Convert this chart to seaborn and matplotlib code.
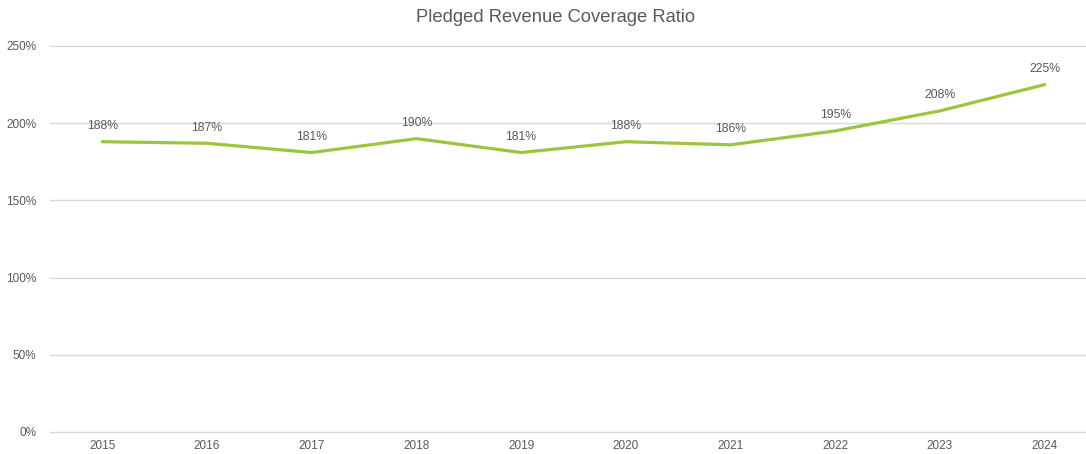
import matplotlib
matplotlib.use("Agg")
import matplotlib.pyplot as plt
import seaborn as sns
import pandas as pd
from matplotlib.ticker import FuncFormatter

years = ["2015", "2016", "2017", "2018", "2019", "2020", "2021", "2022", "2023", "2024"]
coverage = [188, 187, 181, 190, 181, 188, 186, 195, 208, 225]
y_ticks = [0, 50, 100, 150, 200, 250]

sns.set_theme(style="white")
plt.rcParams["font.family"] = ["Liberation Sans", "DejaVu Sans"]

df = pd.DataFrame({"year": years, "coverage": coverage})
df["pos"] = range(len(years))

fig = plt.figure(figsize=(10.86, 4.54), dpi=100)
ax = fig.add_axes([50 / 1086, 22 / 454, 1047 / 1086, 386 / 454])

line_color = "#9BC53D"
text_color = "#595959"

sns.lineplot(data=df, x="pos", y="coverage", ax=ax, color=line_color, linewidth=2.3)

for p, v in zip(df["pos"], df["coverage"]):
    ax.annotate(f"{v}%", (p, v), xytext=(0, 7), textcoords="offset points",
                ha="center", va="bottom", fontsize=8.8, color=text_color)

ax.set_xlim(-0.5, len(years) - 0.5)
ax.set_ylim(0, 250)
ax.set_xticks(df["pos"])
ax.set_xticklabels(years)
ax.set_yticks(y_ticks)
ax.yaxis.set_major_formatter(FuncFormatter(lambda v, _: f"{v:.0f}%"))
ax.tick_params(axis="both", length=0, labelsize=8.5, labelcolor=text_color)
ax.tick_params(axis="x", pad=6)
ax.tick_params(axis="y", pad=10)
ax.grid(axis="y", color="#D9D9D9", linewidth=1)
for gl in ax.get_ygridlines():
    gl.set_clip_on(False)
ax.set_axisbelow(True)
for s in ax.spines.values():
    s.set_visible(False)
ax.set_xlabel("")
ax.set_ylabel("")

fig.text(556 / 1086, 1 - 18 / 454, "Pledged Revenue Coverage Ratio", ha="center", va="center",
         fontsize=13.2, color=text_color)

fig.savefig("out.png", dpi=100)
